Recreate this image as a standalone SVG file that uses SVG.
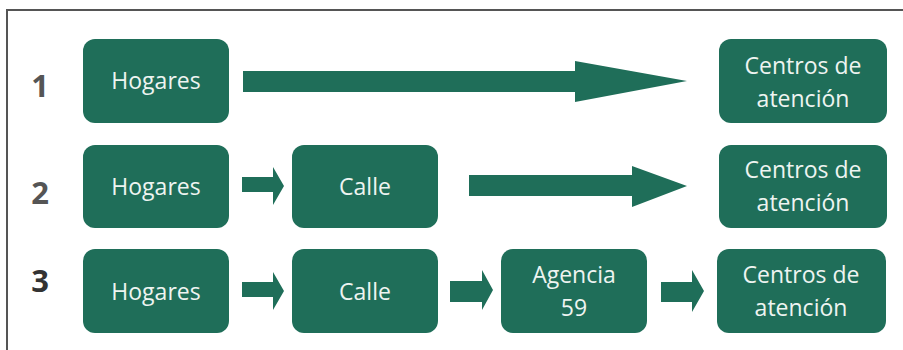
<svg xmlns="http://www.w3.org/2000/svg" width="903" height="350" viewBox="0 0 903 350">
<style>
.box{fill:#1f6e59;}
.lbl{font-family:"Open Sans","DejaVu Sans",sans-serif;font-size:23px;fill:#eef4f1;text-anchor:middle;}
.num{font-family:"Open Sans","DejaVu Sans",sans-serif;font-size:31px;font-weight:bold;text-anchor:middle;}
.arr{fill:#1f6e59;}
</style>
<rect x="0" y="0" width="903" height="350" fill="#ffffff"/>
<path d="M7,351 V10 H904" fill="none" stroke="#555" stroke-width="2"/>
<text class="num" x="40" y="97" fill="#555">1</text>
<text class="num" x="40" y="204" fill="#555">2</text>
<text class="num" x="40" y="292" fill="#333">3</text>
<g id="connectors">
<polygon class="arr" points="243,71 575,71 575,61 687,81 575,102 575,92 243,92"/>
<polygon class="arr" points="242,177 273,177 273,167 284,186 273,205 273,192 242,192"/>
<polygon class="arr" points="469,175 632,175 632,166 687,186 632,207 632,196 469,196"/>
<polygon class="arr" points="242,282 273,282 273,272 284,291 273,310 273,297 242,297"/>
<polygon class="arr" points="450,281 482,281 482,270 493,290 482,310 482,302 450,302"/>
<polygon class="arr" points="661,282 692,282 692,270 704,291 692,312 692,302 661,302"/>
</g>
<g id="n1-hogares"><rect class="box" x="83" y="39" width="146" height="84" rx="12"/><text class="lbl" x="156" y="89">Hogares</text></g>
<g id="n1-centros"><rect class="box" x="719" y="39" width="168" height="84" rx="12"/><text class="lbl" x="803" y="74">Centros de</text><text class="lbl" x="803" y="107">atención</text></g>
<g id="n2-hogares"><rect class="box" x="83" y="145" width="146" height="83" rx="12"/><text class="lbl" x="156" y="195">Hogares</text></g>
<g id="n2-calle"><rect class="box" x="292" y="145" width="146" height="83" rx="12"/><text class="lbl" x="365" y="195">Calle</text></g>
<g id="n2-centros"><rect class="box" x="719" y="145" width="168" height="83" rx="12"/><text class="lbl" x="803" y="178">Centros de</text><text class="lbl" x="803" y="211">atención</text></g>
<g id="n3-hogares"><rect class="box" x="83" y="249" width="146" height="84" rx="12"/><text class="lbl" x="156" y="300">Hogares</text></g>
<g id="n3-calle"><rect class="box" x="292" y="249" width="146" height="84" rx="12"/><text class="lbl" x="365" y="300">Calle</text></g>
<g id="n3-agencia"><rect class="box" x="501" y="249" width="146" height="84" rx="12"/><text class="lbl" x="574" y="283">Agencia</text><text class="lbl" x="574" y="316">59</text></g>
<g id="n3-centros"><rect class="box" x="717" y="249" width="169" height="84" rx="12"/><text class="lbl" x="801" y="283">Centros de</text><text class="lbl" x="801" y="316">atención</text></g>
</svg>
